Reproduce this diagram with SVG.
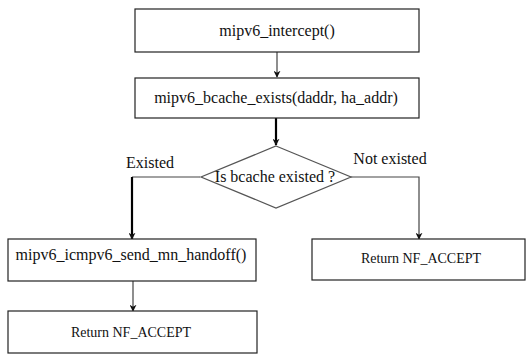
<svg xmlns="http://www.w3.org/2000/svg" width="526" height="354" viewBox="0 0 526 354">
  <style>
    .box { fill: #ffffff; stroke: #222222; stroke-width: 1.2; }
    .dia { fill: #ffffff; stroke: #555555; stroke-width: 1.2; }
    .lbl { font-family: "Liberation Serif", "Times New Roman", serif; font-size: 16px; fill: #111111; text-anchor: middle; }
    .sm { font-size: 14px; }
    .thin { fill: none; stroke: #444444; stroke-width: 1.2; }
    .thick { fill: none; stroke: #000000; stroke-width: 2.2; }
  </style>
  <defs>
    <marker id="arr" viewBox="0 0 10 10" refX="9" refY="5" markerWidth="7" markerHeight="7" markerUnits="userSpaceOnUse" orient="auto">
      <path d="M0,0 L10,5 L0,10 L3,5 Z" fill="#111111"/>
    </marker>
  </defs>
  <rect width="526" height="354" fill="#ffffff"/>

  <g id="connectors">
    <path class="thin" d="M277,52 V77" marker-end="url(#arr)"/>
    <path class="thick" d="M276,118 V145" marker-end="url(#arr)"/>
    <path class="thin" d="M200,177 H132"/>
    <path class="thick" d="M132,177 V239" marker-end="url(#arr)"/>
    <path class="thin" d="M350,177 H419 V239" marker-end="url(#arr)"/>
    <path class="thin" d="M133,281 V311" marker-end="url(#arr)"/>
  </g>

  <g id="n-intercept">
    <rect class="box" x="135" y="9" width="284" height="43"/>
    <text class="lbl" x="277" y="36">mipv6_intercept()</text>
  </g>
  <g id="n-bcache-exists">
    <rect class="box" x="135" y="78" width="284" height="40"/>
    <text class="lbl" x="276" y="103">mipv6_bcache_exists(daddr, ha_addr)</text>
  </g>
  <g id="n-decision">
    <polygon class="dia" points="276,146 351,177 276,208 201,177"/>
    <text class="lbl" x="275" y="182">Is bcache existed ?</text>
  </g>
  <g id="branch-labels">
    <text class="lbl" x="150" y="168">Existed</text>
    <text class="lbl" x="390" y="164">Not existed</text>
  </g>
  <g id="n-send-handoff">
    <rect class="box" x="8" y="239" width="248" height="42"/>
    <text class="lbl" x="131" y="260">mipv6_icmpv6_send_mn_handoff()</text>
  </g>
  <g id="n-accept-right">
    <rect class="box" x="312" y="239" width="213" height="41"/>
    <text class="lbl sm" x="421" y="263">Return NF_ACCEPT</text>
  </g>
  <g id="n-accept-left">
    <rect class="box" x="8" y="311" width="249" height="42"/>
    <text class="lbl sm" x="131" y="337">Return NF_ACCEPT</text>
  </g>
</svg>
